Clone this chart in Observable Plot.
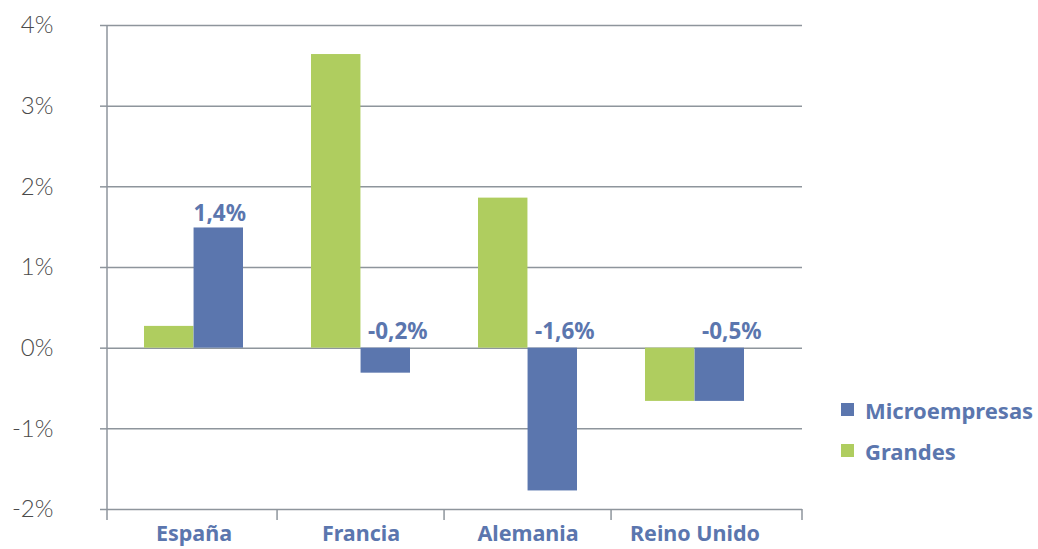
<!DOCTYPE html>
<html><head><meta charset="utf-8">
<script src="https://cdn.jsdelivr.net/npm/d3@7"></script>
<script src="https://cdn.jsdelivr.net/npm/@observablehq/plot@0.6"></script>
<style>
body{margin:0;background:#fff;}
#wrap{position:relative;width:1038px;height:549px;overflow:hidden;}
#legend{position:absolute;left:841px;top:389px;font-family:"Noto Sans",sans-serif;font-weight:700;font-size:22px;color:#5b76ae;}
.item{display:flex;align-items:center;height:41px;white-space:nowrap;}
.sw{width:13px;height:13px;margin-right:11px;}
</style></head>
<body><div id="wrap"><div id="chart"></div><div id="legend"></div></div>
<script>
const countries = ["España", "Francia", "Alemania", "Reino Unido"];
const grandes = [0.27, 3.64, 1.86, -0.66];
const micro = [1.49, -0.31, -1.77, -0.66];
const microLabels = ["1,4%", "-0,2%", "-1,6%", "-0,5%"];
const yTicks = [-2, -1, 0, 1, 2, 3, 4];
const legendNames = ["Microempresas", "Grandes"];
const blue = "#5b76ae", green = "#afcd5f", grid = "#8e959c";

const rows = countries.map((c, i) => ({country: c, grandes: grandes[i], micro: micro[i], label: microLabels[i]}));

const xRange = [107, 781], pIn = 0.41, pOut = 0.211;
const bw = d3.scaleBand(countries, xRange).paddingInner(pIn).paddingOuter(pOut).bandwidth();

function frameLines(index, scales, values, dims) {
  const x = scales.x;
  const top = dims.marginTop, bottom = dims.height - dims.marginBottom;
  const left = dims.marginLeft, right = dims.width - dims.marginRight;
  const edges = [left, ...countries.slice(1).map((c, i) => (x(countries[i]) + x(c) + bw) / 2), right];
  const g = d3.create("svg:g").attr("stroke", grid).attr("stroke-width", 1.5);
  g.append("line").attr("x1", left).attr("x2", left).attr("y1", top).attr("y2", bottom);
  for (const e of edges) g.append("line").attr("x1", e).attr("x2", e).attr("y1", bottom).attr("y2", bottom + 11);
  return g.node();
}

const chart = Plot.plot({
  width: 1038, height: 549,
  marginLeft: 107, marginRight: 236, marginTop: 25, marginBottom: 40,
  style: {fontFamily: "'Noto Sans', sans-serif", background: "#fff"},
  x: {domain: countries, range: xRange, paddingInner: pIn, paddingOuter: pOut, label: null},
  y: {domain: [-2, 4], label: null},
  marks: [
    Plot.ruleY(yTicks, {stroke: grid, strokeWidth: 1.5}),
    Plot.axisY(yTicks, {tickSize: 7, tickPadding: 47, stroke: grid, strokeWidth: 1.5, tickFormat: d => d + "%", fontSize: 24, fontWeight: 300, fill: "#4a4a4a", fontFamily: "Lato, sans-serif", label: null}),
    Plot.axisX({tickSize: 0, tickPadding: 16, fontSize: 21.5, fontWeight: 700, fill: blue, label: null}),
    frameLines,
    Plot.barY(rows, {x: "country", y: "grandes", fill: green, insetRight: bw / 2}),
    Plot.barY(rows, {x: "country", y: "micro", fill: blue, insetLeft: bw / 2}),
    Plot.text(rows.filter(d => d.micro >= 0), {x: "country", y: "micro", text: "label", dx: bw / 4 + 1, dy: -7, lineAnchor: "bottom", fill: blue, fontSize: 22.5, fontWeight: 700}),
    Plot.text(rows.filter(d => d.micro < 0), {x: "country", y: () => 0, text: "label", dx: bw / 4 + 12, dy: -9, lineAnchor: "bottom", fill: blue, fontSize: 22.5, fontWeight: 700})
  ]
});
document.getElementById("chart").appendChild(chart);

const legendColors = {Microempresas: blue, Grandes: green};
const leg = document.getElementById("legend");
for (const n of legendNames) {
  const it = document.createElement("div"); it.className = "item";
  const sw = document.createElement("div"); sw.className = "sw"; sw.style.background = legendColors[n];
  const t = document.createElement("span"); t.textContent = n;
  it.appendChild(sw); it.appendChild(t); leg.appendChild(it);
}
</script>
</body></html>
